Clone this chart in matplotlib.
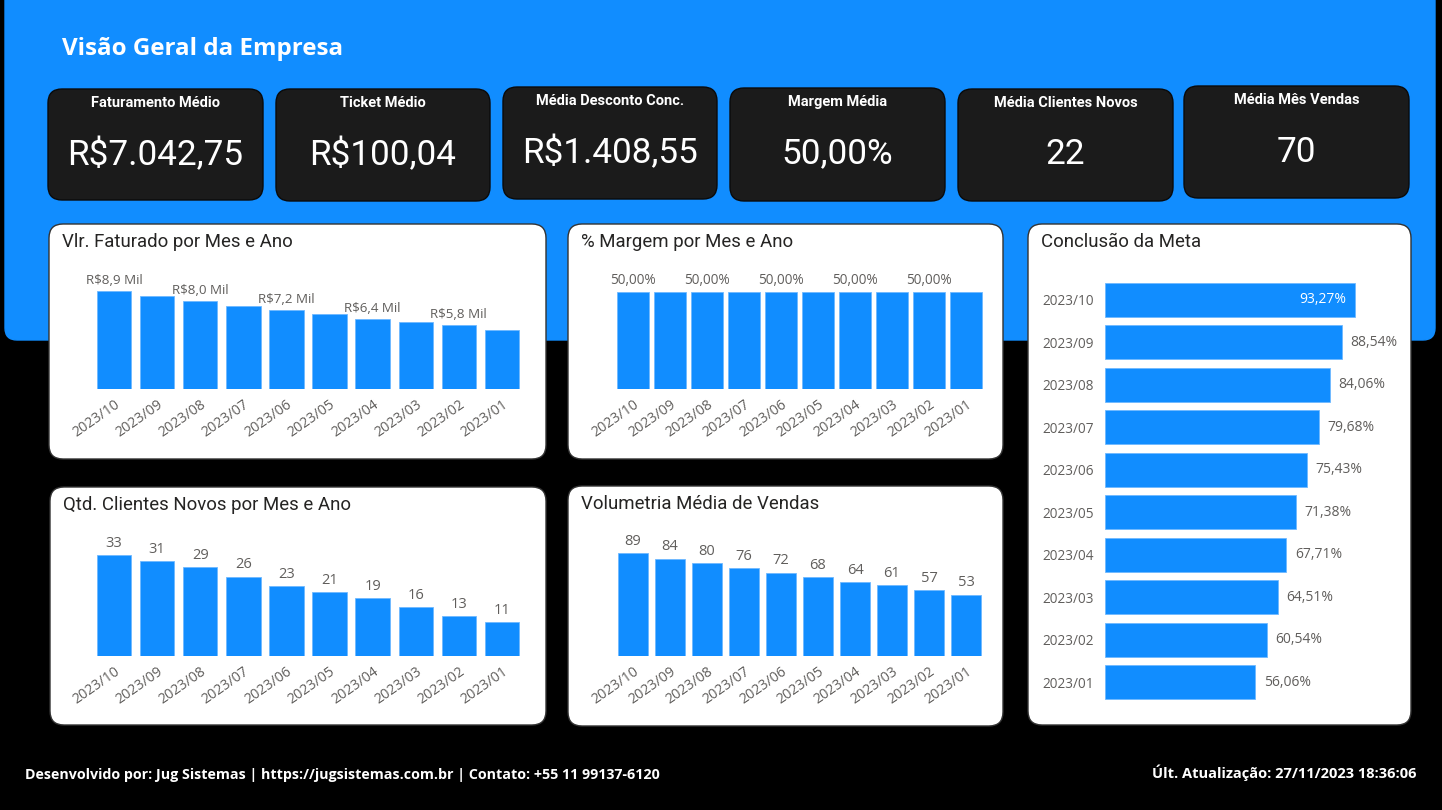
import matplotlib
matplotlib.use('Agg')
import matplotlib.pyplot as plt
from matplotlib.patches import FancyBboxPatch

# dados do painel
meses = ['2023/10', '2023/09', '2023/08', '2023/07', '2023/06',
         '2023/05', '2023/04', '2023/03', '2023/02', '2023/01']
faturado_mil = [8.9, 8.45, 8.0, 7.55, 7.2, 6.8, 6.4, 6.1, 5.8, 5.35]
margem_pct = [50.0, 50.0, 50.0, 50.0, 50.0, 50.0, 50.0, 50.0, 50.0, 50.0]
clientes_novos = [33, 31, 29, 26, 23, 21, 19, 16, 13, 11]
volumetria = [89, 84, 80, 76, 72, 68, 64, 61, 57, 53]
meta_pct = [93.27, 88.54, 84.06, 79.68, 75.43, 71.38, 67.71, 64.51, 60.54, 56.06]

kpi_titulos = ['Faturamento Médio', 'Ticket Médio', 'Média Desconto Conc.',
               'Margem Média', 'Média Clientes Novos', 'Média Mês Vendas']
kpi_valores = ['R$7.042,75', 'R$100,04', 'R$1.408,55', '50,00%', '22', '70']

W, H = 1442, 810
AZUL = '#118DFF'
CINZA = '#605E5C'
TITULO = '#252423'
FONTE_TIT = 'Roboto'
FONTE_TXT = 'Open Sans'

fig = plt.figure(figsize=(W / 100, H / 100), dpi=100, facecolor='black')

# fundo em coordenadas de pixel
bg = fig.add_axes([0, 0, 1, 1])
bg.set_xlim(0, W)
bg.set_ylim(H, 0)
bg.axis('off')
bg.set_facecolor('black')


def caixa(x0, y0, x1, y1, cor, borda, raio=14):
    p = FancyBboxPatch((x0, y0), x1 - x0, y1 - y0,
                       boxstyle='round,pad=0,rounding_size=%d' % raio,
                       facecolor=cor, edgecolor=borda, linewidth=1)
    bg.add_patch(p)


def px_axes(x0, y0, x1, y1):
    a = fig.add_axes([x0 / W, 1 - y1 / H, (x1 - x0) / W, (y1 - y0) / H])
    a.patch.set_alpha(0)
    for s in a.spines.values():
        s.set_visible(False)
    return a


# faixa azul do topo
caixa(5, -20, 1435, 340, AZUL, AZUL, raio=12)
bg.text(62, 49, 'Visão Geral da Empresa', color='white', fontsize=17.4,
        fontweight='bold', family=FONTE_TXT, va='center', ha='left')

# cartões KPI
cartoes = [(48, 89, 263, 200), (276, 89, 490, 201), (503, 87, 717, 199),
           (730, 88, 945, 201), (958, 89, 1173, 201), (1184, 86, 1409, 198)]
for (x0, y0, x1, y1), tit, val in zip(cartoes, kpi_titulos, kpi_valores):
    caixa(x0, y0, x1, y1, '#1B1B1B', '#0A0A0A')
    cx = (x0 + x1) / 2
    bg.text(cx, y0 + 14, tit, color='white', fontsize=10.5, fontweight='bold',
            family=FONTE_TIT, ha='center', va='center')
    bg.text(cx, y0 + 66, val, color='white', fontsize=25.3, family=FONTE_TIT,
            ha='center', va='center')

# painéis brancos
paineis = {
    'A': (49, 224, 546, 459, 'Vlr. Faturado por Mes e Ano'),
    'B': (568, 224, 1003, 459, '% Margem por Mes e Ano'),
    'C': (1028, 224, 1411, 725, 'Conclusão da Meta'),
    'D': (50, 487, 546, 725, 'Qtd. Clientes Novos por Mes e Ano'),
    'E': (568, 486, 1003, 726, 'Volumetria Média de Vendas'),
}
for x0, y0, x1, y1, tit in paineis.values():
    caixa(x0, y0, x1, y1, 'white', '#333333')
    bg.text(x0 + 13, y0 + 18, tit, color=TITULO, fontsize=13.4,
            family=FONTE_TIT, ha='left', va='center')


def colunas(ax, valores, fmt, cada, fator, largura, tam_rotulo):
    x = range(len(valores))
    ax.bar(x, valores, width=largura, color=AZUL, edgecolor='#6FB9FF',
           linewidth=0.6)
    ax.set_xlim(-0.5, len(valores) - 0.5)
    ax.set_ylim(0, max(valores) * fator)
    ax.set_yticks([])
    ax.set_xticks(list(x))
    ax.set_xticklabels(meses, rotation=35, ha='right', rotation_mode='anchor',
                       color=CINZA, fontsize=10.2, family=FONTE_TXT)
    ax.tick_params(axis='x', length=0, pad=6)
    for i, v in enumerate(valores):
        if i % cada == 0:
            ax.annotate(fmt(v), (i, v), xytext=(0, 3), textcoords='offset points',
                        ha='center', va='bottom', color=CINZA, fontsize=tam_rotulo,
                        family=FONTE_TXT)


axA = px_axes(92.5, 260, 523.5, 389)
colunas(axA, faturado_mil, lambda v: ('R$%.1f Mil' % v).replace('.', ','),
        2, 1.32, 0.8, 9.6)

axB = px_axes(614.5, 260, 984.5, 389)
colunas(axB, margem_pct, lambda v: ('%.2f%%' % v).replace('.', ','),
        2, 1.33, 0.84, 9.8)

axD = px_axes(92.5, 525, 523.5, 656)
colunas(axD, clientes_novos, lambda v: '%d' % v, 1, 1.30, 0.8, 10.5)

axE = px_axes(614.5, 525, 984.5, 656)
colunas(axE, volumetria, lambda v: '%d' % v, 1, 1.27, 0.8, 10.5)

# conclusão da meta (barras horizontais)
axC = px_axes(1105, 278.5, 1400, 703.5)
y = range(len(meta_pct))
axC.barh(y, meta_pct, height=0.8, color=AZUL, edgecolor='#6FB9FF', linewidth=0.6)
xmax = max(meta_pct) * 295 / 250
axC.set_xlim(0, xmax)
axC.set_ylim(len(meta_pct) - 0.5, -0.5)
axC.set_xticks([])
axC.set_yticks(list(y))
axC.set_yticklabels(meses, color=CINZA, fontsize=9.8, family=FONTE_TXT)
axC.tick_params(axis='y', length=0, pad=8)
for i, v in enumerate(meta_pct):
    txt = ('%.2f%%' % v).replace('.', ',')
    if v / xmax > 0.83:
        axC.annotate(txt, (v, i), xytext=(-6, 0), textcoords='offset points',
                     ha='right', va='center', color='white', fontsize=10,
                     family=FONTE_TXT)
    else:
        axC.annotate(txt, (v, i), xytext=(6, 0), textcoords='offset points',
                     ha='left', va='center', color=CINZA, fontsize=10,
                     family=FONTE_TXT)

# rodapé
bg.text(25, 775, 'Desenvolvido por: Jug Sistemas | https://jugsistemas.com.br | '
        'Contato: +55 11 99137-6120', color='white', fontsize=10.3,
        fontweight='bold', family=FONTE_TXT, ha='left', va='center')
bg.text(1416, 773, 'Últ. Atualização: 27/11/2023 18:36:06', color='white',
        fontsize=10.5, fontweight='bold', family=FONTE_TXT, ha='right', va='center')

fig.savefig('out.png', dpi=100, facecolor='black')
